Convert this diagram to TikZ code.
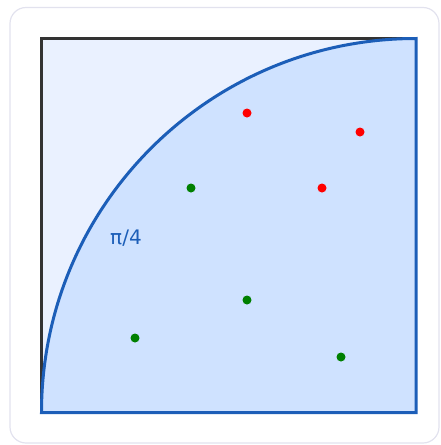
\documentclass[tikz,border=0pt]{standalone}
\usepackage{fontspec}
\setmainfont{DejaVu Sans}
\definecolor{arcblue}{HTML}{1C5EB8}
\definecolor{diskfill}{HTML}{CFE2FF}
\definecolor{cornerfill}{HTML}{EAF1FF}
\definecolor{framegray}{HTML}{E2E2EE}
\definecolor{edgegray}{HTML}{333333}
\definecolor{hitgreen}{HTML}{008000}

\begin{document}
\begin{tikzpicture}[
  x=1pt,y=-1pt,
  hit/.style={circle,fill=hitgreen,inner sep=0pt,minimum size=9pt},
  miss/.style={circle,fill=red,inner sep=0pt,minimum size=9pt}
]
  \useasboundingbox (0,0) rectangle (440,445);
  \draw[framegray,line width=1.2pt,rounded corners=16pt] (10,7.5) rectangle (439,443);

  % square and quarter disk
  \coordinate (tl) at (41.5,38.5);
  \coordinate (tr) at (416,38.5);
  \coordinate (bl) at (41.5,412.5);
  \coordinate (br) at (416,412.5);
  \fill[cornerfill] (tl) rectangle (br);
  \draw[edgegray,line width=3pt] (bl) -- (tl) -- (tr);
  \fill[diskfill] (bl) arc[start angle=180,end angle=90,x radius=374.5,y radius=-374] -- (br) -- cycle;
  \draw[arcblue,line width=3pt,line join=miter] (bl) arc[start angle=180,end angle=90,x radius=374.5,y radius=-374] -- (br) -- cycle;

  \node[text=arcblue,font=\fontsize{20}{24}\selectfont] (area) at (126,238) {π/4};

  \node[miss] (m1) at (247,113) {};
  \node[miss] (m2) at (360,132) {};
  \node[miss] (m3) at (322,188) {};
  \node[hit] (h1) at (191,188) {};
  \node[hit] (h2) at (247,300) {};
  \node[hit] (h3) at (135,338) {};
  \node[hit] (h4) at (341,357) {};
\end{tikzpicture}
\end{document}
